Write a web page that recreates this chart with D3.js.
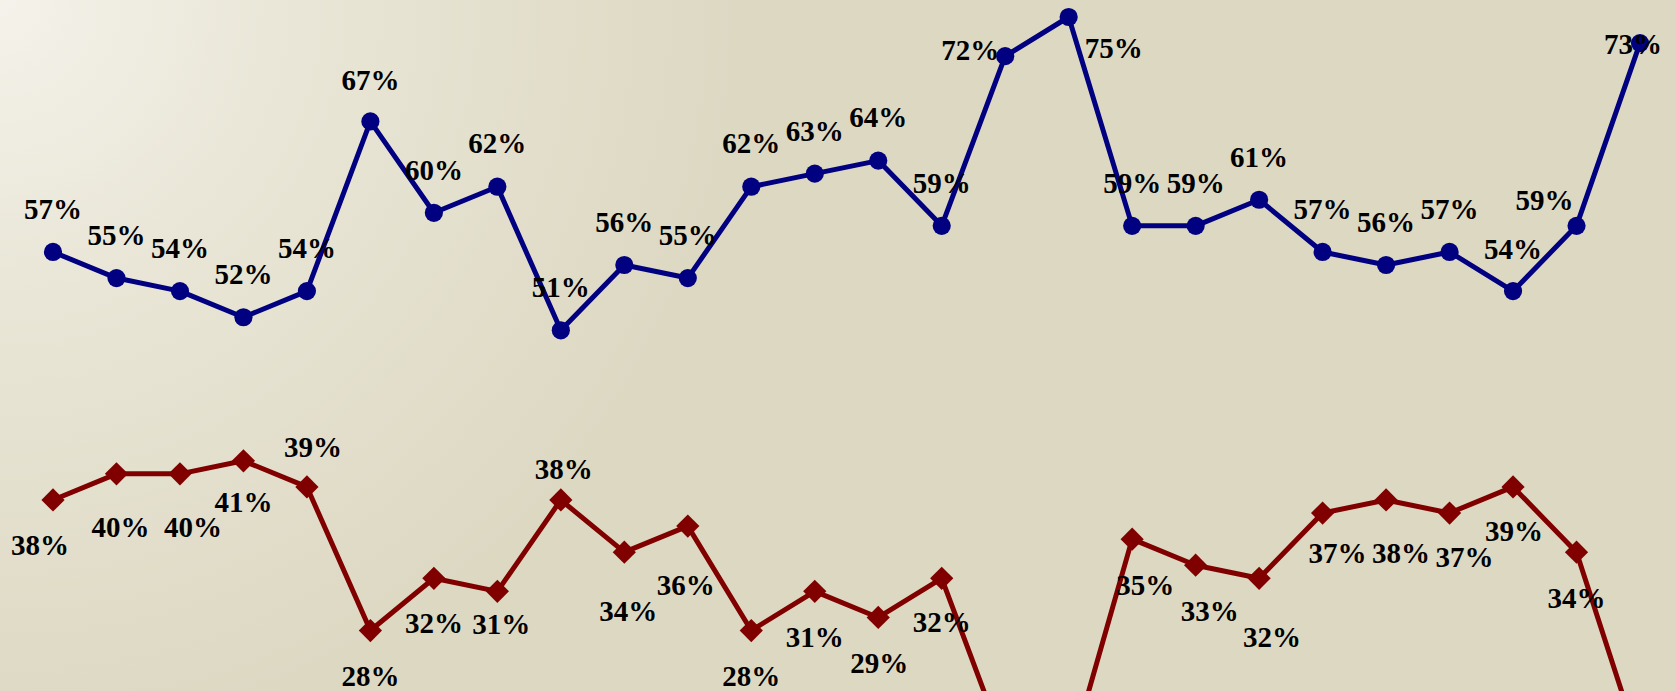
<!DOCTYPE html>
<html>
<head>
<meta charset="utf-8">
<script src="https://cdn.jsdelivr.net/npm/d3@7"></script>
<style>
  html, body { margin: 0; padding: 0; overflow: hidden; }
  svg { display: block; }
</style>
</head>
<body>
<svg id="chart" width="1676" height="691"></svg>
<script>
// ---- data ----
const categories = ["1","2","3","4","5","6","7","8","9","10","11","12","13","14","15","16","17","18","19","20","21","22","23","24","25","26"];
const seriesBlue = [57,55,54,52,54,67,60,62,51,56,55,62,63,64,59,72,75,59,59,61,57,56,57,54,59,73];
const seriesRed  = [38,40,40,41,39,28,32,31,38,34,36,28,31,29,32,19,18,35,33,32,37,38,37,39,34,19];
// label nudges (dx, dy) relative to each point, layout only
const blueLabelNudge = [[0,-43],[0,-43],[0,-43],[0,-43],[0,-43],[0,-42],[0,-43],[0,-44],[0,-43],[0,-43],[0,-43],[0,-44],[0,-43],[0,-44],[0,-43],[-35,-6],[45,31],[0,-43],[0,-43],[0,-43],[0,-43],[0,-43],[0,-43],[0,-42],[-32,-26],[-7,1]];
const redLabelNudge  = [[-13,45],[4,53],[13,53],[0,41],[6,-40],[0,45],[0,45],[4,33],[3,-31],[4,59],[-2,59],[0,45],[0,46],[1,45],[0,44],[0,45],[0,45],[13,46],[14,46],[13,59],[15,40],[15,53],[15,44],[1,44],[0,46],[0,45]];

const W = 1676, H = 691;
const svg = d3.select("#chart");

// background gradient
const defs = svg.append("defs");
const grad = defs.append("radialGradient")
  .attr("id", "bg").attr("gradientUnits", "userSpaceOnUse")
  .attr("cx", 0).attr("cy", 0).attr("r", 1000);
grad.append("stop").attr("offset", "0%").attr("stop-color", "#f4f2ea");
grad.append("stop").attr("offset", "30%").attr("stop-color", "#e9e6d7");
grad.append("stop").attr("offset", "75%").attr("stop-color", "#ddd8c2");
grad.append("stop").attr("offset", "100%").attr("stop-color", "#ddd8c2");
svg.append("rect").attr("width", W).attr("height", H).attr("fill", "url(#bg)");

// scales
const x = d3.scalePoint().domain(categories).range([53, 1640]);
const y = d3.scaleLinear().domain([0, 75]).range([996, 17]);

const series = [
  { values: seriesBlue, color: "#000080", symbol: d3.symbolCircle, size: 260, rot: 0, nudge: blueLabelNudge },
  { values: seriesRed,  color: "#800000", symbol: d3.symbolSquare, size: 270, rot: 45, nudge: redLabelNudge }
];

const line = d3.line().x(d => x(d.c)).y(d => y(d.v));

series.forEach(s => {
  const pts = categories.map((c, i) => ({ c, v: s.values[i], i }));
  const g = svg.append("g");
  g.append("path").datum(pts)
    .attr("d", line)
    .attr("fill", "none")
    .attr("stroke", s.color)
    .attr("stroke-width", 5)
    .attr("stroke-linejoin", "round");
  g.selectAll("path.m").data(pts).join("path")
    .attr("class", "m")
    .attr("d", d3.symbol().type(s.symbol).size(s.size))
    .attr("transform", d => `translate(${x(d.c)},${y(d.v)}) rotate(${s.rot})`)
    .attr("fill", s.color);
  s.pts = pts;
});

// labels (points that fall below the visible frame have no visible label, as in the reference)
series.forEach(s => {
  svg.append("g").selectAll("text").data(s.pts.filter(d => y(d.v) < H)).join("text")
    .attr("x", d => x(d.c) + s.nudge[d.i][0])
    .attr("y", d => y(d.v) + s.nudge[d.i][1])
    .attr("dy", "0.35em")
    .attr("text-anchor", "middle")
    .attr("font-family", "'Liberation Serif', 'Times New Roman', serif")
    .attr("font-weight", "bold")
    .attr("font-size", 29)
    .attr("fill", "#000")
    .text(d => d.v + "%");
});
</script>
</body>
</html>
